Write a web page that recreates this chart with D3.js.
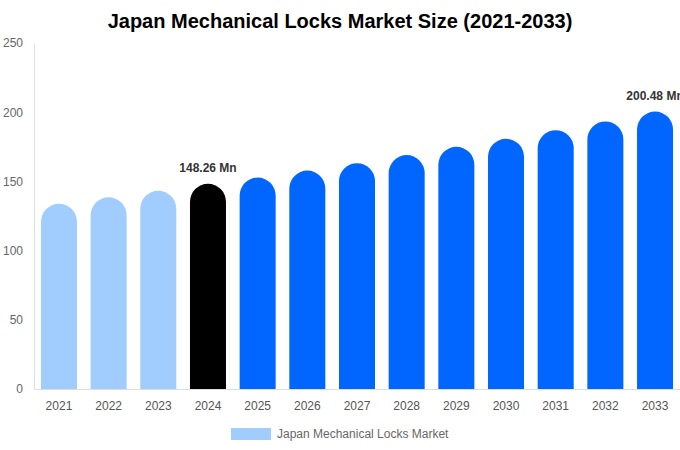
<!DOCTYPE html>
<html><head><meta charset="utf-8">
<script src="https://cdn.jsdelivr.net/npm/d3@7/dist/d3.min.js"></script>
<style>body{margin:0;background:#fff;font-family:"Liberation Sans",Arial,sans-serif;}</style>
</head><body><svg id="c" width="680" height="450"></svg>
<script>
const years = ["2021","2022","2023","2024","2025","2026","2027","2028","2029","2030","2031","2032","2033"];
const values = [133.8, 138.5, 143.2, 148.26, 152.8, 157.8, 163.2, 169.0, 175.0, 180.8, 187.0, 193.3, 200.48];
const yTicks = [0, 50, 100, 150, 200, 250];
const labeled = {"2024": "148.26 Mn", "2033": "200.48 Mn"};
const seriesName = "Japan Mechanical Locks Market";
const colorHist = "#a0cdfe", colorBase = "#000000", colorFcst = "#0066ff";

const svg = d3.select("#c");
const m = {l:34, r:0, t:43, b:61};
const W = 680, H = 450;
const x = d3.scaleBand().domain(years).range([m.l, W - m.r]).paddingInner(0.275).paddingOuter(0.14);
const y = d3.scaleLinear().domain([0, 250]).range([H - m.b, m.t]);

svg.append("text").attr("x", 340).attr("y", 28).attr("text-anchor","middle")
  .attr("font-size", 20).attr("font-weight","bold").attr("fill","#000")
  .text("Japan Mechanical Locks Market Size (2021-2033)");

// y axis
const ya = svg.append("g").attr("transform", `translate(${m.l},0)`)
  .call(d3.axisLeft(y).tickValues(yTicks).tickSize(0).tickPadding(11));
ya.select(".domain").attr("stroke","#e0e0e0");
ya.selectAll("text").attr("font-size",12).attr("fill","#666").attr("font-family","Liberation Sans, Arial, sans-serif");

// bars
const color = d => +d <= 2023 ? colorHist : (d === "2024" ? colorBase : colorFcst);
const bw = x.bandwidth(), r = bw/2;
svg.append("g").selectAll("path").data(years).join("path")
  .attr("fill", d => color(d))
  .attr("d", (d,i) => {
    const x0 = x(d), x1 = x0 + bw, yt = y(values[i]), yb = y(0);
    return `M${x0},${yb}L${x0},${yt + r}A${r},${r} 0 0 1 ${x1},${yt + r}L${x1},${yb}Z`;
  });

// x axis
const xa = svg.append("g").attr("transform", `translate(0,${y(0)})`)
  .call(d3.axisBottom(x).tickSize(0).tickPadding(12));
xa.select(".domain").attr("stroke","#ddd");
xa.selectAll("text").attr("font-size",12).attr("fill","#555").attr("font-family","Liberation Sans, Arial, sans-serif");

// value labels
svg.append("g").selectAll("text").data(years.filter(d => labeled[d])).join("text")
  .attr("x", d => x(d) + bw/2)
  .attr("y", d => y(values[years.indexOf(d)]) - 12)
  .attr("text-anchor","middle").attr("font-size",12).attr("font-weight","bold").attr("fill","#333")
  .text(d => labeled[d]);

// legend
const lg = svg.append("g");
lg.append("rect").attr("x",231).attr("y",428).attr("width",40).attr("height",12).attr("fill",colorHist);
lg.append("text").attr("x",277).attr("y",437.5).attr("font-size",12).attr("fill","#666").text(seriesName);
</script></body></html>
